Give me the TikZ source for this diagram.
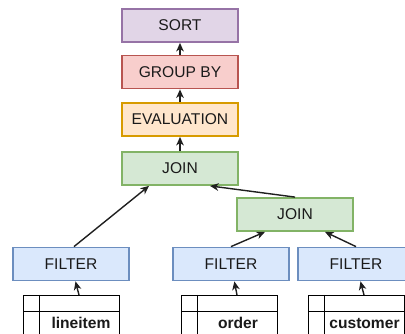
\documentclass[tikz,border=0pt]{standalone}
\usepackage{fontspec}
\setmainfont{Liberation Sans}
\usetikzlibrary{arrows.meta}

\definecolor{blueF}{HTML}{DAE8FC}\definecolor{blueD}{HTML}{6C8EBF}
\definecolor{greenF}{HTML}{D5E8D4}\definecolor{greenD}{HTML}{82B366}
\definecolor{orangeF}{HTML}{FFE6CC}\definecolor{orangeD}{HTML}{D79B00}
\definecolor{redF}{HTML}{F8CECC}\definecolor{redD}{HTML}{B85450}
\definecolor{purpleF}{HTML}{E1D5E7}\definecolor{purpleD}{HTML}{9673A6}
\definecolor{txt}{HTML}{1A1A1A}

\tikzset{
  op/.style={draw, line width=1.8pt, minimum width=116pt, minimum height=33pt,
    inner sep=0pt, text=txt, font=\fontsize{15.6}{18}\selectfont},
  filterbox/.style={op, fill=blueF, draw=blueD},
  joinbox/.style={op, fill=greenF, draw=greenD},
  evalbox/.style={op, fill=orangeF, draw=orangeD},
  groupbox/.style={op, fill=redF, draw=redD},
  sortbox/.style={op, fill=purpleF, draw=purpleD},
  tablebox/.style={draw, line width=0.9pt, minimum width=96pt, minimum height=60pt,
    inner sep=0pt, anchor=north west},
  tname/.style={font=\bfseries\fontsize{15.6}{18}\selectfont, text=txt, inner sep=0pt},
  flow/.style={line width=1.4pt, draw=black!88,
    -{Stealth[length=8.5pt,width=7.5pt,inset=2.5pt]}},
}

\begin{document}
\begin{tikzpicture}[x=1pt,y=-1pt]
\useasboundingbox (0,0) rectangle (405,334);
\clip (0,0) rectangle (405,334);

% operator pipeline
\node[sortbox]  (sort)  at (180,25.5)  {SORT};
\node[groupbox] (group) at (180,72)    {GROUP BY};
\node[evalbox]  (eval)  at (180,119.5) {EVALUATION};
\node[joinbox]  (join1) at (180,168.5) {JOIN};
\node[joinbox]  (join2) at (295,214.5) {JOIN};

\node[filterbox] (f1) at (71,264)  {FILTER};
\node[filterbox] (f2) at (231,264) {FILTER};
\node[filterbox] (f3) at (356,264) {FILTER};

% base tables
\node[tablebox] (t1) at (23,295)  {};
\node[tablebox] (t2) at (181,295) {};
\node[tablebox] (t3) at (308,295) {};
\foreach \t in {t1,t2,t3}{
  \draw[line width=0.9pt] ([xshift=16pt]\t.north west) -- ([xshift=16pt]\t.south west);
  \draw[line width=0.9pt] ([yshift=-16pt]\t.north west) -- ([yshift=-16pt]\t.north east);
  \coordinate (\t top) at ([xshift=56pt]\t.north west);
}
\node[tname] (n1) at ([xshift=58pt,yshift=-28pt]t1.north west) {lineitem};
\node[tname] (n2) at ([xshift=57pt,yshift=-28pt]t2.north west) {order};
\node[tname] (n3) at ([xshift=56.5pt,yshift=-28pt]t3.north west) {customer};

% data flow
\draw[flow] (t1top) -- (f1);
\draw[flow] (t2top) -- (f2);
\draw[flow] (t3top) -- (f3);
\draw[flow] ([xshift=3pt]f1.north) -- ([xshift=-31pt]join1.south);
\draw[flow] (f2.north) -- ([xshift=-30pt]join2.south);
\draw[flow] (f3.north) -- ([xshift=30pt]join2.south);
\draw[flow] (join2.north) -- ([xshift=30pt]join1.south);
\draw[flow] (join1) -- (eval);
\draw[flow] (eval) -- (group);
\draw[flow] (group) -- (sort);
\end{tikzpicture}
\end{document}
